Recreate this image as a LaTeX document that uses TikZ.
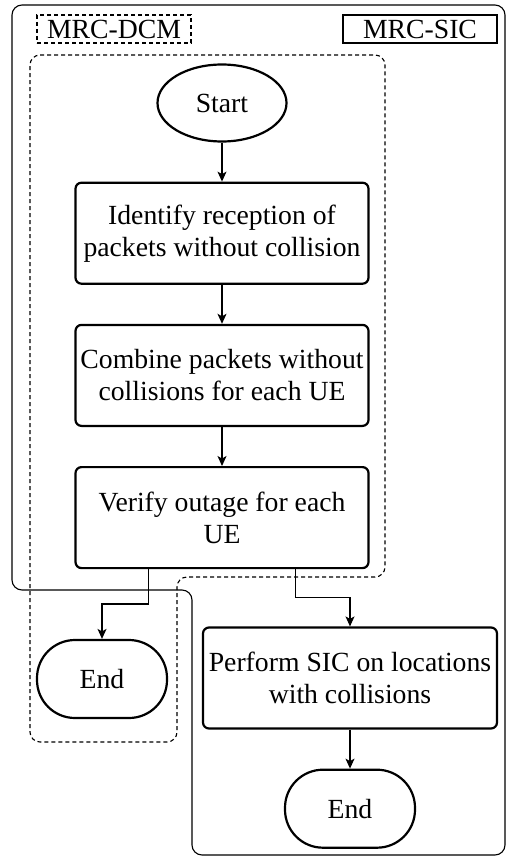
\documentclass[tikz,border=0pt]{standalone}
\usepackage{fontspec}
\setmainfont{Liberation Serif}
\usetikzlibrary{positioning,arrows.meta,shapes.geometric,calc}

\begin{document}
\begin{tikzpicture}[
    x=1pt, y=-1pt,
    node distance = 39pt,
    font={\fontsize{27.7}{32}\selectfont},
    base/.style={draw,line width=2.2pt,align=center,inner sep=0pt},
    process/.style={base,rectangle,rounded corners=6pt,minimum width=293pt,minimum height=101pt},
    startnode/.style={base,ellipse,minimum width=129pt,minimum height=77pt},
    endnode/.style={base,rectangle,rounded corners=38pt,minimum width=130pt,minimum height=78pt},
    tag/.style={draw,line width=1.1pt,minimum width=154pt,minimum height=28pt,inner sep=0pt},
    arr/.style={-{Stealth[length=10pt,width=9pt,inset=2.5pt]},line width=1.2pt},
    region/.style={line width=1.1pt,rounded corners=10pt},
    dashes/.style={dash pattern=on 4pt off 3pt},
]
    \useasboundingbox (0,0) rectangle (507,856);

    % Regions
    \draw[region] (12,5) -- (505,5) -- (505,855) -- (192,855) -- (192,590) -- (12,590) -- cycle;
    \draw[region,dashes] (30,55) -- (385,55) -- (385,577) -- (177,577) -- (177,742) -- (30,742) -- cycle;

    % Tags
    \node[tag,dashes] (dcmtag) at (114,29) {MRC-DCM};
    \node[tag]        (sictag) at (420,29) {MRC-SIC};

    % Nodes
    \node[startnode] (start) at (222,103) {Start};
    \node[process,below=of start]    (identify) {Identify reception of\\packets without collision};
    \node[process,below=of identify] (combine)  {Combine packets without\\collisions for each UE};
    \node[process,below=of combine]  (verify)   {Verify outage for each\\UE};
    \node[endnode] (dcmend) at (102,679) {End};
    \node[process,minimum width=294pt] (sic) at (350,678) {Perform SIC on locations\\with collisions};
    \node[endnode,below=of sic] (sicend) {End};

    % Arrows
    \draw[arr] (start) -- (identify);
    \draw[arr] (identify) -- (combine);
    \draw[arr] (combine) -- (verify);
    \coordinate (dcmout) at ($(verify.south west)!.25!(verify.south east)$);
    \coordinate (sicout) at ($(verify.south west)!.75!(verify.south east)$);
    \draw[arr] (dcmout) |- ($(dcmout)!.5!(dcmend.north)$) -| (dcmend.north);
    \draw[arr] (sicout) |- ($(sicout)!.5!(sic.north)$) -| (sic.north);
    \draw[arr] (sic) -- (sicend);

\end{tikzpicture}
\end{document}
